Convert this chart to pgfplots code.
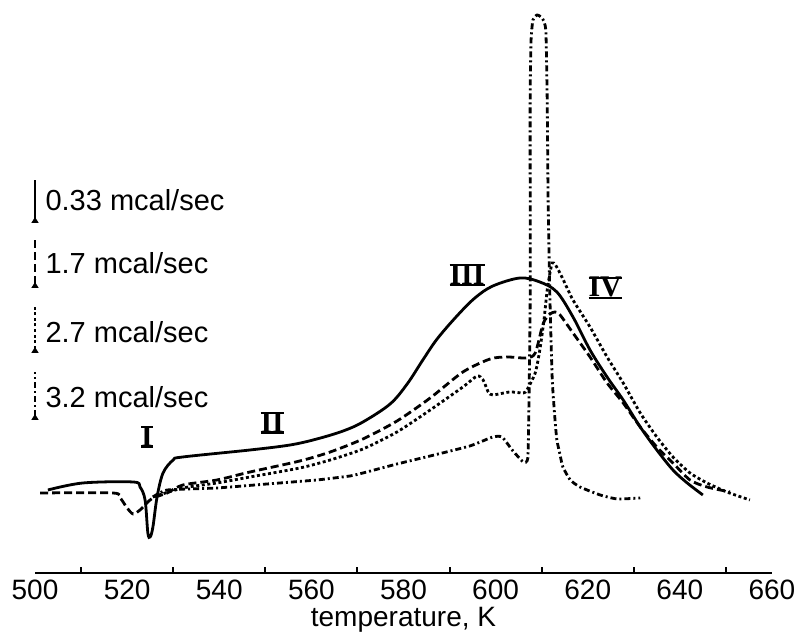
\documentclass[border=0pt]{standalone}
\usepackage{pgfplots}
\pgfplotsset{compat=1.18}
\usepackage{fontspec}
\setmainfont{Liberation Sans}
\newfontfamily\serifrm{Liberation Serif}
\usetikzlibrary{arrows.meta}
\newcommand{\rmn}[1]{{\setbox0\hbox{\serifrm\bfseries #1}\dimen0=\wd0\vbox{\hrule width\dimen0 height 1.1pt\kern-1.0pt\hbox{\box0}\kern-0.3pt\hrule width\dimen0 height 1.1pt}}}
\begin{document}
\begin{tikzpicture}
\begin{axis}[
  scale only axis,
  width=368.5pt, height=286.5pt,
  xmin=500, xmax=660, ymin=60, ymax=633,
  axis x line=bottom, axis y line=none,
  x axis line style={line width=1pt,-},
  clip=false,
  xtick={500,520,...,660},
  minor xtick={510,530,...,650},
  every major x tick/.style={draw=none},
  every minor x tick/.style={line width=1pt,black},
  minor tick length=3pt,
  xtick align=inside,
  /pgf/number format/assume math mode=true,
  /pgf/number format/1000 sep={},
  xticklabel style={font=\fontsize{14}{16}\selectfont, anchor=center, yshift=-8.5pt},
  xlabel={temperature, K},
  xlabel style={font=\fontsize{14}{16}\selectfont, at={(axis description cs:0.5,0)}, anchor=center, yshift=-23.5pt},
]
% solid 0.33 mcal/sec
\addplot[black, line width=1.4pt, smooth, tension=0.55] coordinates {
(502.8,143) (510.4,150) (521.3,151) (522.8,146) (523.9,133) (524.5,100) (525.0,96) (525.6,106) (526.5,136) (527.8,160) (530.0,173) (532.1,176) (546.7,183) (555.4,188) (561.2,194) (566.9,202) (571.2,211) (577.1,229) (580.8,249) (584.2,273) (587.3,294) (591.6,317) (595.5,335) (599.4,347) (605.3,355) (609.6,351) (613.3,341) (616.8,316) (620.5,283) (624.2,256) (627.7,233) (631.4,206) (635.0,183) (638.5,163) (641.6,150) (645.0,138)
};
% dashed 1.7 mcal/sec
\addplot[black, line width=1.4pt, dash pattern=on 4pt off 2pt, smooth, tension=0.45] coordinates {
(501.1,140) (516.9,140) (518.5,135) (520.0,125) (521.3,119) (522.8,123) (524.3,130) (525.6,135) (528.7,140) (532.1,148) (539.5,153) (546.7,161) (557.5,172) (564.1,181) (571.2,194) (578.6,212) (585.8,235) (592.9,261) (598.8,274) (602.5,276) (606.8,275) (608.6,280) (610.1,306) (610.7,313) (611.8,319) (612.9,321) (614.0,318) (616.8,300) (620.5,276) (624.2,250) (627.7,230) (631.4,206) (635.0,186) (638.5,170) (642.2,153) (645.9,146) (650.9,141)
};
% dotted 2.7 mcal/sec
\addplot[black, line width=1.4pt, dash pattern=on 1.5pt off 1.3pt, smooth, tension=0.4] coordinates {
(525.6,136) (532.1,145) (539.5,150) (546.7,156) (557.5,165) (564.1,173) (571.2,184) (578.6,201) (585.8,223) (592.9,246) (596.0,257) (597.3,253) (598.4,241) (599.4,238) (603.1,241) (606.0,240) (606.8,243) (608.6,260) (609.6,283) (610.5,313) (611.2,343) (611.8,360) (612.3,370) (613.0,368) (614.4,356) (616.8,333) (620.5,306) (624.2,276) (627.7,250) (631.4,220) (635.0,196) (638.5,176) (642.2,160) (645.9,150) (650.2,141) (655.2,133)
};
% dash-dot 3.2 mcal/sec
\addplot[black, line width=1.4pt, dash pattern=on 3pt off 1.5pt on 1pt off 1.5pt, smooth, tension=0.3] coordinates {
(525.6,136) (528.7,143) (539.5,145) (550.4,149) (561.2,153) (568.4,157) (571.2,160) (578.6,169) (585.8,177) (594.4,187) (599.4,196) (601.4,196) (603.6,183) (606.0,171) (607.0,175) (607.25,233) (607.5,333) (607.5,533) (607.7,593) (608.1,613) (609.0,618) (610.1,615) (610.9,603) (611.2,533) (611.4,433) (611.8,333) (612.3,253) (612.9,213) (613.3,193) (614.0,178) (614.6,166) (616.2,153) (618.3,146) (622.7,138) (626.4,134) (631.4,135)
};
% scale bars
\addplot[black, line width=1pt, {Triangle[reversed,length=3pt,width=3.5pt]}-] coordinates {(500,410) (500,453)};
\addplot[black, line width=1pt, dash pattern=on 4pt off 2pt, {Triangle[reversed,length=3pt,width=3.5pt]}-] coordinates {(500,345) (500,395)};
\addplot[black, line width=1pt, dash pattern=on 1.5pt off 1.3pt, {Triangle[reversed,length=3pt,width=3.5pt]}-] coordinates {(500,280) (500,328)};
\addplot[black, line width=1pt, dash pattern=on 3pt off 1.5pt on 1pt off 1.5pt, {Triangle[reversed,length=3pt,width=3.5pt]}-] coordinates {(500,213) (500,261)};
\node[anchor=west, font=\fontsize{14.5}{16}\selectfont, inner sep=0pt] at (axis cs:502.2,433) {0.33 mcal/sec};
\node[anchor=west, font=\fontsize{14.5}{16}\selectfont, inner sep=0pt] at (axis cs:502.2,370) {1.7 mcal/sec};
\node[anchor=west, font=\fontsize{14.5}{16}\selectfont, inner sep=0pt] at (axis cs:502.2,301) {2.7 mcal/sec};
\node[anchor=west, font=\fontsize{14.5}{16}\selectfont, inner sep=0pt] at (axis cs:502.2,236) {3.2 mcal/sec};
\node[font=\fontsize{15}{16}\selectfont, inner sep=0pt] at (axis cs:524.3,196) {\rmn{I}};
\node[font=\fontsize{15}{16}\selectfont, inner sep=0pt] at (axis cs:551.5,210) {\rmn{II}};
\node[font=\fontsize{15}{16}\selectfont, inner sep=0pt] at (axis cs:593.8,358) {\rmn{III}};
\node[font=\fontsize{15}{16}\selectfont, inner sep=0pt] at (axis cs:623.8,345) {\rmn{IV}};
\coordinate (bl) at (axis cs:492.4,0);
\coordinate (tr) at (axis cs:665.87,633);
\end{axis}
\pgfresetboundingbox
\path (bl) rectangle (tr);
\end{tikzpicture}
\end{document}
